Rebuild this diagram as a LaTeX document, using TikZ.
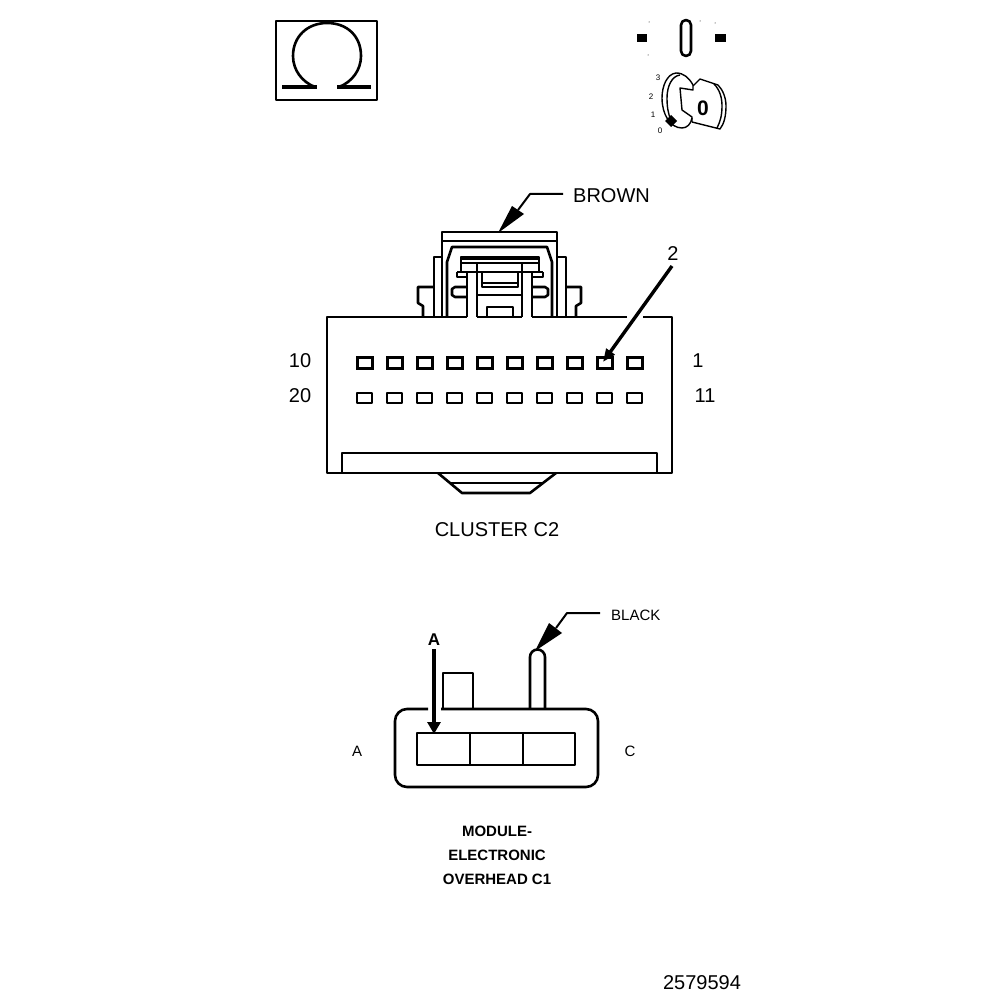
\documentclass[tikz,border=0pt]{standalone}
\usepackage{fontspec}
\setmainfont{Liberation Sans}
\usetikzlibrary{arrows.meta,calc}
\tikzset{
  PartLine/.style={line width=2.6pt,line join=round},
  ThinLine/.style={line width=1.4pt,line join=round},
  Leader/.style={line width=2pt,line join=round},
  PinLabel/.style={font=\fontsize{20}{20}\selectfont,inner sep=0pt},
  SmallLabel/.style={font=\fontsize{15}{15}\selectfont,inner sep=0pt},
  BoldLabel/.style={font=\bfseries\fontsize{15}{15}\selectfont,inner sep=0pt},
  DialLabel/.style={font=\fontsize{8}{8}\selectfont,inner sep=0pt}
}

\begin{document}
\begin{tikzpicture}[x=1pt,y=-1pt]
\useasboundingbox (0,0) rectangle (1008,1000);
\fill[white] (0,0) rectangle (1008,1000);

% ohm symbol
\draw[PartLine] (276,21) rectangle (377,100);
\draw[line width=3.4pt] (282,87) -- (317,87);
\draw[line width=3.4pt] (337,87) -- (371,87);
\draw[PartLine] (315,87) .. controls (302,82) and (293,70) .. (293,56)
  .. controls (293,36) and (308,23) .. (327,23)
  .. controls (347,23) and (361,36) .. (361,56)
  .. controls (361,70) and (352,82) .. (339,87);

% ignition switch
\fill (637,34) rectangle (647,42);
\fill (715,34) rectangle (726,42);
\draw[PartLine] (681,25) arc[start angle=180,end angle=360,radius=5] -- (691,51)
  arc[start angle=0,end angle=180,radius=5] -- cycle;
\fill (649,22) circle (.5) (648,55) circle (.5) (700,21) circle (.5) (715,23) circle (.5);
\draw[ThinLine] (693,85) .. controls (689,78) and (684,73) .. (676,73)
  .. controls (667,74) and (662,86) .. (662,98)
  .. controls (662,114) and (670,128) .. (682,128)
  .. controls (687,128) and (691,124) .. (692,118);
\draw[ThinLine] (680,75) .. controls (672,76) and (667,86) .. (667,98)
  .. controls (667,106) and (668,114) .. (671,120);
\draw[ThinLine] (693,85) -- (693,90) -- (680,88) -- (682,110) -- (692,117) -- (692,122);
\draw[ThinLine] (693,86) -- (700,79) -- (718,85)
  .. controls (723,90) and (726,98) .. (726,106)
  .. controls (726,116) and (724,124) .. (720,129)
  -- (692,122);
\draw[ThinLine] (714,84) .. controls (720,90) and (722,98) .. (722,106)
  .. controls (722,116) and (720,122) .. (717,128);
\fill (671,115) -- (677,121) -- (671,127) -- (665,121) -- cycle;
\node[font=\bfseries\fontsize{21}{21}\selectfont,inner sep=0pt] (keyzero) at (703,108) {0};
\node[DialLabel] (dialthree) at (658,78) {3};
\node[DialLabel] (dialtwo) at (651,97) {2};
\node[DialLabel] (dialone) at (653,115) {1};
\node[DialLabel] (dialzero) at (660,131) {0};

% cluster connector, latch
\draw[PartLine] (442,317) -- (442,232) -- (557,232) -- (557,317);
\draw[PartLine] (442,241) -- (557,241);
\draw[PartLine] (447,317) -- (447,262) -- (452,247) -- (547,247) -- (552,262) -- (552,317);
\draw[PartLine] (442,257) -- (434,257) -- (434,317);
\draw[PartLine] (557,257) -- (566,257) -- (566,317);
\draw[PartLine] (434,287) -- (418,287) -- (418,303) -- (423,306) -- (423,317);
\draw[PartLine] (566,287) -- (581,287) -- (581,303) -- (576,306) -- (576,317);
\draw[line width=3.4pt] (461,258) -- (539,258);
\draw[PartLine] (461,272) -- (461,257) -- (539,257) -- (539,272);
\draw[ThinLine] (461,263) -- (539,263);
\draw[PartLine] (457,272) -- (543,272);
\draw[PartLine] (457,272) -- (457,277) -- (467,277);
\draw[PartLine] (543,272) -- (543,277) -- (532,277);
\draw[PartLine] (467,273) -- (467,317);
\draw[PartLine] (477,263) -- (477,317);
\draw[PartLine] (522,263) -- (522,317);
\draw[PartLine] (532,273) -- (532,317);
\draw[PartLine] (482,272) -- (482,287) -- (518,287) -- (518,272);
\draw[ThinLine] (482,283) -- (518,283);
\draw[PartLine] (477,295) -- (522,295);
\draw[PartLine] (487,317) -- (487,307) -- (513,307) -- (513,317);
\draw[PartLine] (467,287) -- (455,287) -- (452,289) -- (452,295) -- (455,297) -- (467,297);
\draw[PartLine] (532,287) -- (545,287) -- (548,289) -- (548,295) -- (545,297) -- (532,297);

% cluster connector, body
\draw[PartLine] (467,317) -- (327,317) -- (327,473) -- (672,473) -- (672,317) -- (643,317);
\draw[PartLine] (627,317) -- (532,317);
\draw[PartLine] (477,317) -- (522,317);
\draw[PartLine] (342,473) -- (342,453) -- (657,453) -- (657,473);
\draw[PartLine] (438,473) -- (462,493) -- (530,493) -- (556,473);
\draw[PartLine] (451,483) -- (543,483);
\foreach \i in {0,...,9}{
  \draw[line width=3pt] ($(357,357)+(30*\i,0)$) rectangle +(15,11);
  \draw[PartLine] ($(357,393)+(30*\i,0)$) rectangle +(15,10);
}

% cluster labels
\node[PinLabel,anchor=west] (brownlbl) at (573,196) {BROWN};
\coordinate (brownknee) at (530,194);
\coordinate (browntip) at (498,233);
\coordinate (brownback) at (518,210);
\draw[Leader] (brownlbl.west)++(-10,-2) -- (brownknee) -- (brownback);
\fill (browntip) -- (512,206) -- (524,214) -- cycle;
\node[PinLabel] (pintwo) at (673,254) {2};
\coordinate (pintail) at (672,266);
\coordinate (pintip) at (603,362);
\draw[line width=3.4pt,-{Triangle[length=13pt,width=10pt]}] (pintail) -- (pintip);
\node[PinLabel] (lblten) at (300,361) {10};
\node[PinLabel] (lbltwenty) at (300,396) {20};
\node[PinLabel] (lblone) at (698,361) {1};
\node[PinLabel] (lbleleven) at (705,396) {11};
\node[PinLabel] (clusterlbl) at (497,530) {CLUSTER C2};

% overhead module connector
\draw[PartLine] (428,709) -- (407,709)
  arc[start angle=-90,end angle=-180,radius=12] -- (395,775)
  arc[start angle=180,end angle=90,radius=12] -- (586,787)
  arc[start angle=90,end angle=0,radius=12] -- (598,721)
  arc[start angle=0,end angle=-90,radius=12] -- (441,709);
\draw[PartLine] (417,733) rectangle (575,765);
\draw[PartLine] (470,733) -- (470,765);
\draw[PartLine] (523,733) -- (523,765);
\draw[PartLine] (443,709) -- (443,673) -- (473,673) -- (473,709);
\draw[PartLine] (530,709) -- (530,657) arc[start angle=180,end angle=360,radius=7.5] -- (545,709);

% module labels
\node[SmallLabel,anchor=west] (blacklbl) at (611,615) {BLACK};
\coordinate (blackknee) at (567,613);
\coordinate (blacktip) at (535,651);
\coordinate (blackback) at (556,628);
\draw[Leader] (blacklbl.west)++(-11,-2) -- (blackknee) -- (blackback);
\fill (blacktip) -- (549,623) -- (562,633) -- cycle;
\node[BoldLabel,font=\bfseries\fontsize{17}{17}\selectfont] (lbla) at (434,640) {A};
\coordinate (atip) at (434,734);
\draw[line width=4pt,-{Triangle[length=12pt,width=13pt]}] (lbla.south)++(0,3) -- (atip);
\node[SmallLabel] (cavitya) at (357,751) {A};
\node[SmallLabel] (cavityc) at (630,751) {C};
\node[BoldLabel] (modulea) at (497,831) {MODULE-};
\node[BoldLabel] (moduleb) at (497,855) {ELECTRONIC};
\node[BoldLabel] (modulec) at (497,879) {OVERHEAD C1};

\node[PinLabel] (partno) at (702,983) {2579594};

\end{tikzpicture}
\end{document}
